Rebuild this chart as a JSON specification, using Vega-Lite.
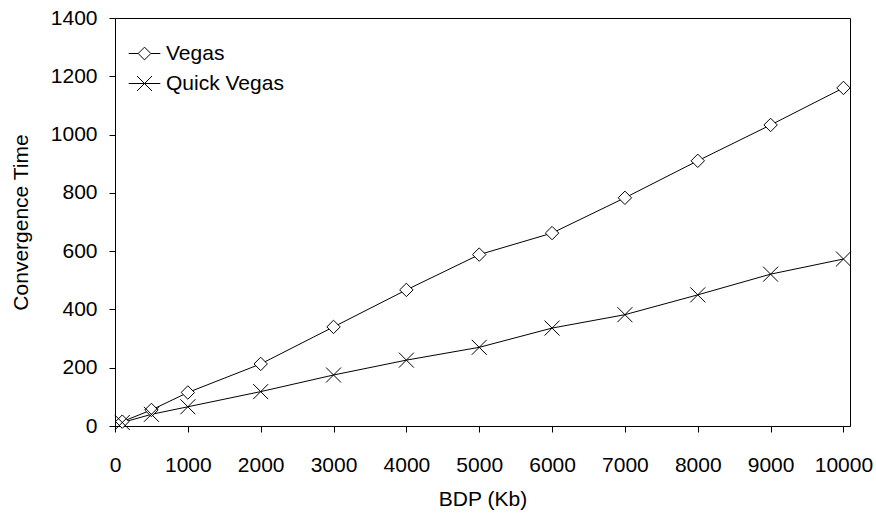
{
  "$schema": "https://vega.github.io/schema/vega-lite/v6.json",
  "width": 735,
  "height": 408,
  "autosize": {"type": "none"},
  "padding": {"left": 115, "top": 18, "right": 26, "bottom": 88},
  "background": "white",
  "config": {
    "font": "Liberation Sans",
    "view": {"stroke": "black", "strokeWidth": 1},
    "axis": {
      "grid": false,
      "domainColor": "black",
      "domainWidth": 1,
      "ticks": true,
      "tickColor": "black",
      "tickWidth": 1,
      "tickSize": 6,
      "tickOpacity": 1,
      "labelColor": "black",
      "titleColor": "black",
      "labelFontSize": 21,
      "titleFontSize": 21,
      "titleFontWeight": "normal"
    }
  },
  "data": {
    "values": [
      {"bdp": 100, "time": 15, "series": "Vegas"},
      {"bdp": 500, "time": 55, "series": "Vegas"},
      {"bdp": 1000, "time": 115, "series": "Vegas"},
      {"bdp": 2000, "time": 213, "series": "Vegas"},
      {"bdp": 3000, "time": 340, "series": "Vegas"},
      {"bdp": 4000, "time": 467, "series": "Vegas"},
      {"bdp": 5000, "time": 588, "series": "Vegas"},
      {"bdp": 6000, "time": 662, "series": "Vegas"},
      {"bdp": 7000, "time": 783, "series": "Vegas"},
      {"bdp": 8000, "time": 910, "series": "Vegas"},
      {"bdp": 9000, "time": 1033, "series": "Vegas"},
      {"bdp": 10000, "time": 1160, "series": "Vegas"},
      {"bdp": 100, "time": 12, "series": "Quick Vegas"},
      {"bdp": 500, "time": 40, "series": "Quick Vegas"},
      {"bdp": 1000, "time": 66, "series": "Quick Vegas"},
      {"bdp": 2000, "time": 118, "series": "Quick Vegas"},
      {"bdp": 3000, "time": 175, "series": "Quick Vegas"},
      {"bdp": 4000, "time": 226, "series": "Quick Vegas"},
      {"bdp": 5000, "time": 270, "series": "Quick Vegas"},
      {"bdp": 6000, "time": 336, "series": "Quick Vegas"},
      {"bdp": 7000, "time": 382, "series": "Quick Vegas"},
      {"bdp": 8000, "time": 450, "series": "Quick Vegas"},
      {"bdp": 9000, "time": 521, "series": "Quick Vegas"},
      {"bdp": 10000, "time": 573, "series": "Quick Vegas"}
    ]
  },
  "encoding": {
    "x": {
      "field": "bdp",
      "type": "quantitative",
      "scale": {"domain": [0, 10090], "nice": false},
      "axis": {
        "title": "BDP (Kb)",
        "values": [0, 1000, 2000, 3000, 4000, 5000, 6000, 7000, 8000, 9000, 10000],
        "format": "d",
        "labelPadding": 22,
        "titlePadding": 13,
        "labelFlush": false,
        "labelOverlap": false,
        "encode": {"ticks": {"update": {"y2": {"value": -6}}}}
      }
    },
    "y": {
      "field": "time",
      "type": "quantitative",
      "scale": {"domain": [0, 1400], "nice": false},
      "axis": {
        "title": "Convergence Time",
        "values": [0, 200, 400, 600, 800, 1000, 1200, 1400],
        "format": "d",
        "labelPadding": 12,
        "titlePadding": 19,
        "labelOverlap": false,
        "encode": {"ticks": {"update": {"x2": {"value": 6}}}}
      }
    }
  },
  "layer": [
    {
      "mark": {"type": "line", "color": "black", "strokeWidth": 1},
      "encoding": {"detail": {"field": "series"}}
    },
    {
      "mark": {"type": "point", "filled": false, "stroke": "black", "fill": "white", "strokeWidth": 1, "opacity": 1},
      "encoding": {
        "shape": {
          "field": "series",
          "scale": {"domain": ["Vegas", "Quick Vegas"], "range": ["diamond", "M-1,-1L1,1M-1,1L1,-1"]},
          "legend": null
        },
        "size": {
          "field": "series",
          "scale": {"domain": ["Vegas", "Quick Vegas"], "range": [180, 225]},
          "legend": null
        }
      }
    },
    {
      "mark": {"type": "point", "filled": false, "stroke": "black", "strokeWidth": 1, "opacity": 0},
      "encoding": {
        "shape": {
          "field": "series",
          "scale": {
            "domain": ["Vegas", "Quick Vegas"],
            "range": [
              "M-3.16,0L-1.27,0M1.27,0L3.16,0M-1.27,0L0,-1.27L1.27,0L0,1.27Z",
              "M-3.16,0L3.16,0M-1.5,-1.5L1.5,1.5M-1.5,1.5L1.5,-1.5"
            ]
          },
          "legend": {
            "title": null,
            "orient": "none",
            "legendX": 19,
            "legendY": 25,
            "padding": 0,
            "symbolSize": 100,
            "symbolStrokeWidth": 1,
            "symbolStrokeColor": "black",
            "symbolOpacity": 1,
            "labelFontSize": 21,
            "labelColor": "black",
            "labelOffset": 11,
            "rowPadding": 8,
            "encode": {
              "symbols": {"update": {"opacity": {"value": 1}, "fill": {"value": "transparent"}, "stroke": {"value": "black"}}}
            }
          }
        }
      }
    }
  ],
  "resolve": {"scale": {"shape": "independent"}}
}
